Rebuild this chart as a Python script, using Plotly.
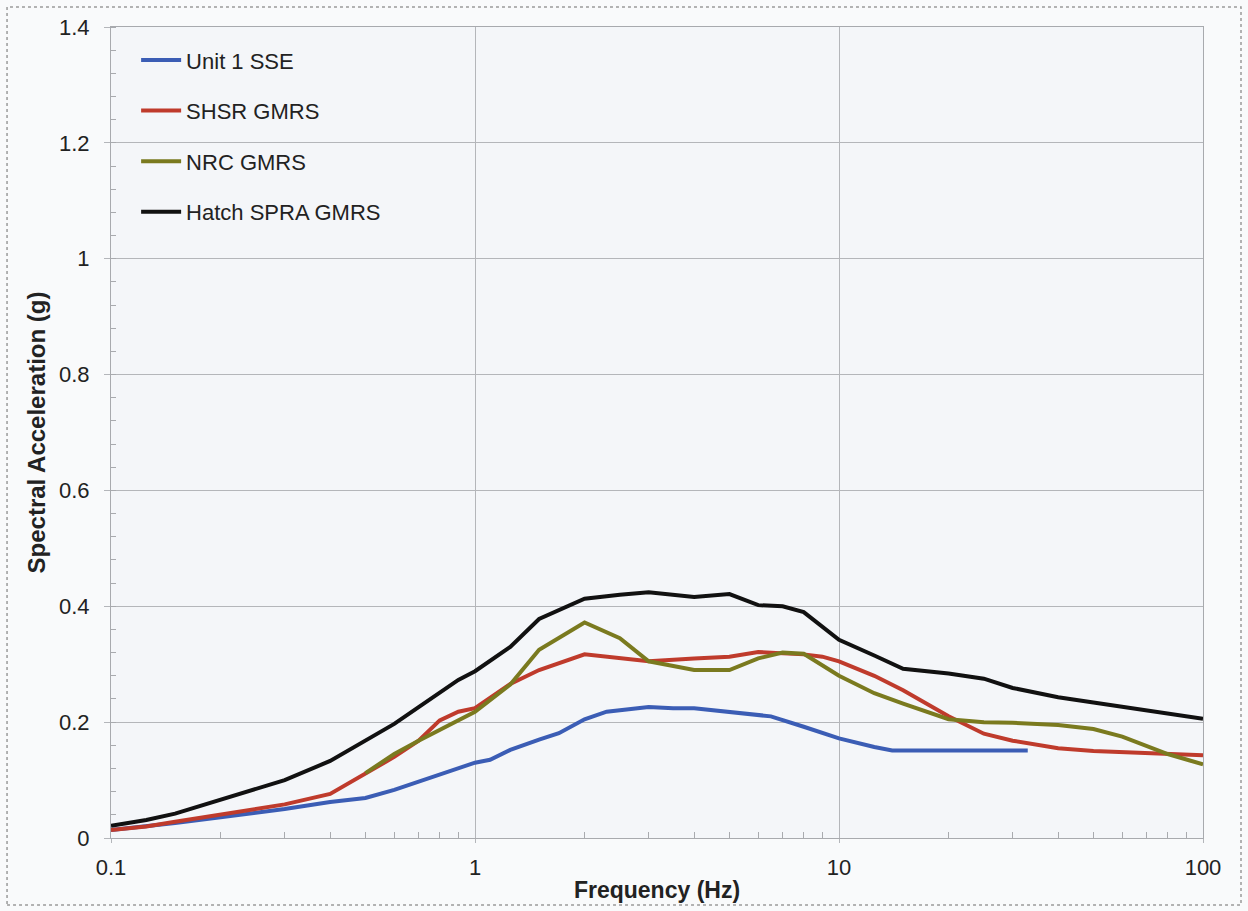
import plotly.graph_objects as go

# Unit 1 SSE spectrum
sse_freq = [0.1, 0.125, 0.15, 0.2, 0.25, 0.3, 0.4, 0.5, 0.6, 0.7, 0.8, 0.9, 1.0, 1.1,
            1.25, 1.5, 1.7, 2.0, 2.3, 3.0, 3.5, 4.0, 5.0, 6.5, 8.0, 10.0, 12.5, 14.0, 20.0, 33.0]
sse_acc = [0.014, 0.020, 0.026, 0.036, 0.043, 0.050, 0.062, 0.069, 0.083, 0.097, 0.109, 0.120,
           0.130, 0.135, 0.152, 0.170, 0.181, 0.205, 0.218, 0.226, 0.224, 0.224, 0.218, 0.210,
           0.192, 0.172, 0.157, 0.151, 0.151, 0.151]

# SHSR GMRS
shsr_freq = [0.1, 0.125, 0.15, 0.2, 0.25, 0.3, 0.4, 0.5, 0.6, 0.7, 0.8, 0.9, 1.0, 1.25, 1.5,
             2.0, 2.5, 3.0, 4.0, 5.0, 6.0, 7.0, 8.0, 9.0, 10.0, 12.5, 15.0, 20.0, 25.0, 30.0,
             40.0, 50.0, 70.0, 100.0]
shsr_acc = [0.014, 0.020, 0.028, 0.040, 0.050, 0.058, 0.076, 0.112, 0.140, 0.168, 0.203, 0.218,
            0.224, 0.266, 0.290, 0.317, 0.310, 0.305, 0.310, 0.313, 0.321, 0.319, 0.317, 0.313,
            0.305, 0.280, 0.255, 0.210, 0.180, 0.168, 0.155, 0.150, 0.146, 0.143]

# NRC GMRS
nrc_freq = [0.5, 0.6, 0.7, 0.8, 0.9, 1.0, 1.25, 1.5, 2.0, 2.5, 3.0, 4.0, 5.0, 6.0, 7.0, 8.0,
            10.0, 12.5, 15.0, 20.0, 25.0, 30.0, 40.0, 50.0, 60.0, 70.0, 80.0, 100.0]
nrc_acc = [0.112, 0.145, 0.168, 0.186, 0.203, 0.218, 0.265, 0.325, 0.372, 0.345, 0.305, 0.290,
           0.290, 0.310, 0.320, 0.318, 0.280, 0.250, 0.232, 0.205, 0.200, 0.199, 0.195, 0.188,
           0.175, 0.158, 0.145, 0.127]

# Hatch SPRA GMRS
hatch_freq = [0.1, 0.125, 0.15, 0.2, 0.25, 0.3, 0.4, 0.5, 0.6, 0.7, 0.8, 0.9, 1.0, 1.25, 1.5,
              2.0, 2.5, 3.0, 4.0, 5.0, 6.0, 7.0, 8.0, 10.0, 12.5, 15.0, 20.0, 25.0, 30.0, 40.0,
              50.0, 70.0, 100.0]
hatch_acc = [0.021, 0.031, 0.042, 0.066, 0.084, 0.100, 0.133, 0.168, 0.197, 0.226, 0.250, 0.273,
             0.288, 0.330, 0.378, 0.413, 0.420, 0.424, 0.416, 0.421, 0.402, 0.400, 0.390, 0.342,
             0.315, 0.292, 0.284, 0.275, 0.259, 0.243, 0.234, 0.220, 0.206]

series = [
    ("Unit 1 SSE", sse_freq, sse_acc, "#3b5db5"),
    ("SHSR GMRS", shsr_freq, shsr_acc, "#bf3b2c"),
    ("NRC GMRS", nrc_freq, nrc_acc, "#7a7a1f"),
    ("Hatch SPRA GMRS", hatch_freq, hatch_acc, "#111111"),
]

y_ticks = [0, 0.2, 0.4, 0.6, 0.8, 1.0, 1.2, 1.4]
y_tick_text = ["0", "0.2", "0.4", "0.6", "0.8", "1", "1.2", "1.4"]
x_ticks = [0.1, 1, 10, 100]
x_tick_text = ["0.1", "1", "10", "100"]
x_minor_ticks = [m * d for d in (0.1, 1, 10) for m in range(2, 10)]

FONT = "Arial, Liberation Sans, sans-serif"
grid_color = "#b4b6ba"
axis_color = "#a8aaae"

fig = go.Figure()
for i, (name, fx, ay, color) in enumerate(series):
    fig.add_trace(go.Scatter(
        x=fx, y=ay, name=name, mode="lines",
        line=dict(color=color, width=4),
        legendgroup=f"g{i}",
    ))

fig.update_xaxes(
    type="log", range=[-1, 2],
    tickvals=x_ticks, ticktext=x_tick_text,
    showgrid=True, gridcolor=grid_color, gridwidth=1,
    showline=True, linecolor=axis_color, linewidth=1, mirror=True,
    ticks="outside", ticklen=4, tickcolor=grid_color, zeroline=False,
    ticklabelstandoff=6,
    minor=dict(tickvals=x_minor_ticks, ticks="inside", ticklen=6,
               tickcolor=axis_color, showgrid=False),
    tickfont=dict(family=FONT, size=22, color="#222222"),
    title=dict(text="<b>Frequency (Hz)</b>", standoff=2,
               font=dict(family=FONT, size=23, color="#222222")),
)
fig.update_yaxes(
    range=[0, 1.4],
    tickvals=y_ticks, ticktext=y_tick_text,
    showgrid=True, gridcolor=grid_color, gridwidth=1,
    showline=True, linecolor=axis_color, linewidth=1, mirror=True,
    ticks="outside", ticklen=6, tickcolor=grid_color, zeroline=False,
    ticklabelstandoff=10,
    minor=dict(dtick=0.04, ticks="inside", ticklen=5, tickcolor=axis_color, showgrid=False),
    tickfont=dict(family=FONT, size=22, color="#222222"),
    title=dict(text="<b>Spectral Acceleration (g)</b>", standoff=6,
               font=dict(family=FONT, size=24, color="#222222")),
)

# Dotted frame around the whole chart area
fig.add_shape(type="rect", xref="paper", yref="paper",
              x0=-0.0952, x1=1.0348, y0=-0.0826, y1=1.0247,
              line=dict(color="#9a9a9a", width=1.5, dash="dot"), layer="below")

fig.update_layout(
    width=1248, height=911,
    margin=dict(l=111, r=45, t=27, b=73),
    paper_bgcolor="#f9fafb",
    plot_bgcolor="#f4f6f9",
    showlegend=True,
    legend=dict(
        x=0.023, y=0.985, xanchor="left", yanchor="top",
        bgcolor="rgba(0,0,0,0)", borderwidth=0,
        traceorder="grouped", tracegroupgap=19,
        itemwidth=40,
        font=dict(family=FONT, size=22, color="#222222"),
    ),
)

fig.write_html("out.html")
